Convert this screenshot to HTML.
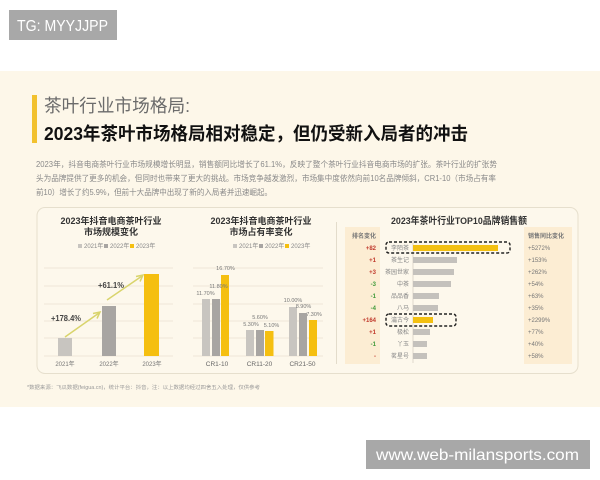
<!DOCTYPE html>
<html><head><meta charset="utf-8">
<style>
html,body{margin:0;padding:0;background:#fff;}
svg{display:block;}
text{font-family:"Liberation Sans","Noto Sans CJK SC",sans-serif;}
</style></head>
<body>
<svg width="600" height="480" viewBox="0 0 600 480" xmlns="http://www.w3.org/2000/svg">
<rect x="0" y="0" width="600" height="480" fill="#ffffff"/>
<!-- watermark top -->
<rect x="9" y="10" width="108" height="30" fill="#a8a8a8"/>
<text x="17" y="31" font-size="16" fill="#ffffff" textLength="91" lengthAdjust="spacingAndGlyphs">TG: MYYJJPP</text>
<!-- cream panel -->
<rect x="0" y="71" width="600" height="336" fill="#fdf7e9"/>
<!-- title -->
<rect x="32" y="95" width="5" height="48" fill="#f2c12e"/>
<text x="44" y="112" font-size="18" fill="#6b6b6b" textLength="146" lengthAdjust="spacingAndGlyphs">茶叶行业市场格局:</text>
<text x="44" y="140" font-size="18" font-weight="bold" fill="#111" textLength="424" lengthAdjust="spacingAndGlyphs">2023年茶叶市场格局相对稳定，但仍受新入局者的冲击</text>
<!-- paragraph -->
<g font-size="8" fill="#8a8a8a">
<text x="36" y="167" textLength="461" lengthAdjust="spacingAndGlyphs">2023年，抖音电商茶叶行业市场规模增长明显，销售额同比增长了61.1%，反映了整个茶叶行业抖音电商市场的扩张。茶叶行业的扩张势</text>
<text x="36" y="181" textLength="460" lengthAdjust="spacingAndGlyphs">头为品牌提供了更多的机会，但同时也带来了更大的挑战。市场竞争越发激烈，市场集中度依然向前10名品牌倾斜，CR1-10（市场占有率</text>
<text x="36" y="195" textLength="236" lengthAdjust="spacingAndGlyphs">前10）增长了约5.9%，但前十大品牌中出现了新的入局者并迅速崛起。</text>
</g>
<!-- card -->
<rect x="37" y="207.5" width="541" height="166" rx="8" fill="#fdf8ec" stroke="#e6dfcd" stroke-width="1"/>
<line x1="336.5" y1="222" x2="336.5" y2="364" stroke="#e3dccb" stroke-width="1"/>

<!-- chart 1 -->
<g font-weight="bold" font-size="9" fill="#333" text-anchor="middle">
<text x="111" y="224">2023年抖音电商茶叶行业</text>
<text x="111" y="235">市场规模变化</text>
<text x="261" y="224">2023年抖音电商茶叶行业</text>
<text x="261" y="235">市场占有率变化</text>
</g>
<g font-size="6" fill="#888">
<rect x="78" y="244" width="4" height="4" fill="#c8c5c0"/><text x="84" y="248">2021年</text>
<rect x="104" y="244" width="4" height="4" fill="#a8a5a2"/><text x="110" y="248">2022年</text>
<rect x="130" y="244" width="4" height="4" fill="#f5bf10"/><text x="136" y="248">2023年</text>
<rect x="233" y="244" width="4" height="4" fill="#c8c5c0"/><text x="239" y="248">2021年</text>
<rect x="259" y="244" width="4" height="4" fill="#a8a5a2"/><text x="265" y="248">2022年</text>
<rect x="285" y="244" width="4" height="4" fill="#f5bf10"/><text x="291" y="248">2023年</text>
</g>
<g stroke="#e8e1d2" stroke-width="0.8">
<line x1="44" y1="268" x2="173" y2="268"/><line x1="44" y1="286" x2="173" y2="286"/>
<line x1="44" y1="304" x2="173" y2="304"/><line x1="44" y1="321" x2="173" y2="321"/>
<line x1="44" y1="338" x2="173" y2="338"/><line x1="44" y1="356" x2="173" y2="356"/>
<line x1="193" y1="268" x2="323" y2="268"/><line x1="193" y1="286" x2="323" y2="286"/>
<line x1="193" y1="304" x2="323" y2="304"/><line x1="193" y1="321" x2="323" y2="321"/>
<line x1="193" y1="338" x2="323" y2="338"/><line x1="193" y1="356" x2="323" y2="356"/>
</g>
<rect x="58" y="338" width="14" height="18" fill="#c8c5c0"/>
<rect x="102" y="306" width="14" height="50" fill="#a8a5a2"/>
<rect x="144" y="274" width="15" height="82" fill="#f5bf10"/>
<g stroke="#d9d46c" stroke-width="1.5" fill="none">
<line x1="65" y1="337" x2="99" y2="313"/>
<polyline points="93,313.5 100,312 97,318.5"/>
<line x1="107" y1="300" x2="142" y2="276"/>
<polyline points="136,276.5 143,275 140,281.5"/>
</g>
<g font-size="8" font-weight="bold" fill="#444">
<text x="51" y="321" textLength="30" lengthAdjust="spacingAndGlyphs">+178.4%</text>
<text x="98" y="288" textLength="26" lengthAdjust="spacingAndGlyphs">+61.1%</text>
</g>
<g font-size="6" fill="#777" text-anchor="middle">
<text x="65" y="366">2021年</text>
<text x="109" y="366">2022年</text>
<text x="152" y="366">2023年</text>
</g>

<!-- chart 2 -->
<rect x="202" y="299" width="8" height="57" fill="#c8c5c0"/>
<rect x="212" y="299" width="8" height="57" fill="#a8a5a2"/>
<rect x="221" y="275" width="8" height="81" fill="#f5bf10"/>
<rect x="246" y="330" width="8" height="26" fill="#c8c5c0"/>
<rect x="256" y="330" width="8" height="26" fill="#a8a5a2"/>
<rect x="265" y="331" width="8.5" height="25" fill="#f5bf10"/>
<rect x="289" y="307" width="8" height="49" fill="#c8c5c0"/>
<rect x="299" y="313" width="8" height="43" fill="#a8a5a2"/>
<rect x="309" y="320" width="8" height="36" fill="#f5bf10"/>
<g font-size="5.5" fill="#777" text-anchor="middle">
<text x="205.5" y="295">11.70%</text>
<text x="218.5" y="288">11.80%</text>
<text x="225.5" y="270">16.70%</text>
<text x="251" y="326">5.30%</text>
<text x="260" y="319">5.60%</text>
<text x="271.5" y="327">5.10%</text>
<text x="293" y="302">10.00%</text>
<text x="303.5" y="308">8.90%</text>
<text x="314" y="316">7.30%</text>
</g>
<g font-size="6.5" fill="#666" text-anchor="middle">
<text x="217" y="366">CR1-10</text>
<text x="259.5" y="366">CR11-20</text>
<text x="302.5" y="366">CR21-50</text>
</g>

<!-- chart 3 -->
<text x="459" y="224" font-size="9.5" font-weight="bold" fill="#333" text-anchor="middle" textLength="136" lengthAdjust="spacingAndGlyphs">2023年茶叶行业TOP10品牌销售额</text>
<rect x="345" y="227" width="35" height="137" fill="#fcedd3"/>
<rect x="524" y="227" width="48" height="137" fill="#fcedd3"/>
<text x="376" y="238" font-size="6" font-weight="bold" fill="#777" text-anchor="end">排名变化</text>
<text x="528" y="238" font-size="6" font-weight="bold" fill="#777">销售同比变化</text>
<line x1="413" y1="240" x2="413" y2="363" stroke="#d6d0c4" stroke-width="0.8"/>
<g font-size="6" font-weight="bold" text-anchor="end">
<text x="376" y="250" fill="#c0392b">+82</text>
<text x="376" y="262" fill="#c0392b">+1</text>
<text x="376" y="274" fill="#c0392b">+3</text>
<text x="376" y="286" fill="#3f9a3a">-3</text>
<text x="376" y="298" fill="#3f9a3a">-1</text>
<text x="376" y="310" fill="#3f9a3a">-4</text>
<text x="376" y="322" fill="#c0392b">+164</text>
<text x="376" y="334" fill="#c0392b">+1</text>
<text x="376" y="346" fill="#3f9a3a">-1</text>
<text x="376" y="358" fill="#c0392b">-</text>
</g>
<g font-size="6" fill="#888" text-anchor="end">
<text x="409" y="250">李陌茶</text>
<text x="409" y="262">茶生记</text>
<text x="409" y="274">茶园世家</text>
<text x="409" y="286">中茶</text>
<text x="409" y="298">品品香</text>
<text x="409" y="310">八马</text>
<text x="409" y="322">瀹古今</text>
<text x="409" y="334">极松</text>
<text x="409" y="346">丫玉</text>
<text x="409" y="358">茗星号</text>
</g>
<g>
<rect x="413" y="245" width="85" height="6" fill="#f3c012"/>
<rect x="413" y="257" width="44" height="6" fill="#c4c1bc"/>
<rect x="413" y="269" width="41" height="6" fill="#c4c1bc"/>
<rect x="413" y="281" width="38" height="6" fill="#c4c1bc"/>
<rect x="413" y="293" width="26" height="6" fill="#c4c1bc"/>
<rect x="413" y="305" width="25" height="6" fill="#c4c1bc"/>
<rect x="413" y="317" width="20" height="6" fill="#f3c012"/>
<rect x="413" y="329" width="17" height="6" fill="#c4c1bc"/>
<rect x="413" y="341" width="14" height="6" fill="#c4c1bc"/>
<rect x="413" y="353" width="14" height="6" fill="#c4c1bc"/>
</g>
<rect x="386" y="242" width="124" height="11" rx="3" fill="none" stroke="#222" stroke-width="1.4" stroke-dasharray="3 2"/>
<rect x="386" y="314" width="70" height="12" rx="3" fill="none" stroke="#222" stroke-width="1.4" stroke-dasharray="3 2"/>
<g font-size="6" fill="#777">
<text x="528" y="250">+5272%</text>
<text x="528" y="262">+153%</text>
<text x="528" y="274">+262%</text>
<text x="528" y="286">+54%</text>
<text x="528" y="298">+63%</text>
<text x="528" y="310">+35%</text>
<text x="528" y="322">+2299%</text>
<text x="528" y="334">+77%</text>
<text x="528" y="346">+40%</text>
<text x="528" y="358">+58%</text>
</g>

<!-- footnote -->
<text x="27" y="389" font-size="5" fill="#999" textLength="233" lengthAdjust="spacingAndGlyphs">*数据来源：飞瓜数据(feigua.cn)，统计平台：抖音，注：以上数据均经过四舍五入处理，仅供参考</text>

<!-- watermark bottom -->
<rect x="366" y="440" width="224" height="29" fill="#a8a8a8"/>
<text x="376" y="460" font-size="16" fill="#ffffff" textLength="203" lengthAdjust="spacingAndGlyphs">www.web-milansports.com</text>
</svg>
</body></html>
